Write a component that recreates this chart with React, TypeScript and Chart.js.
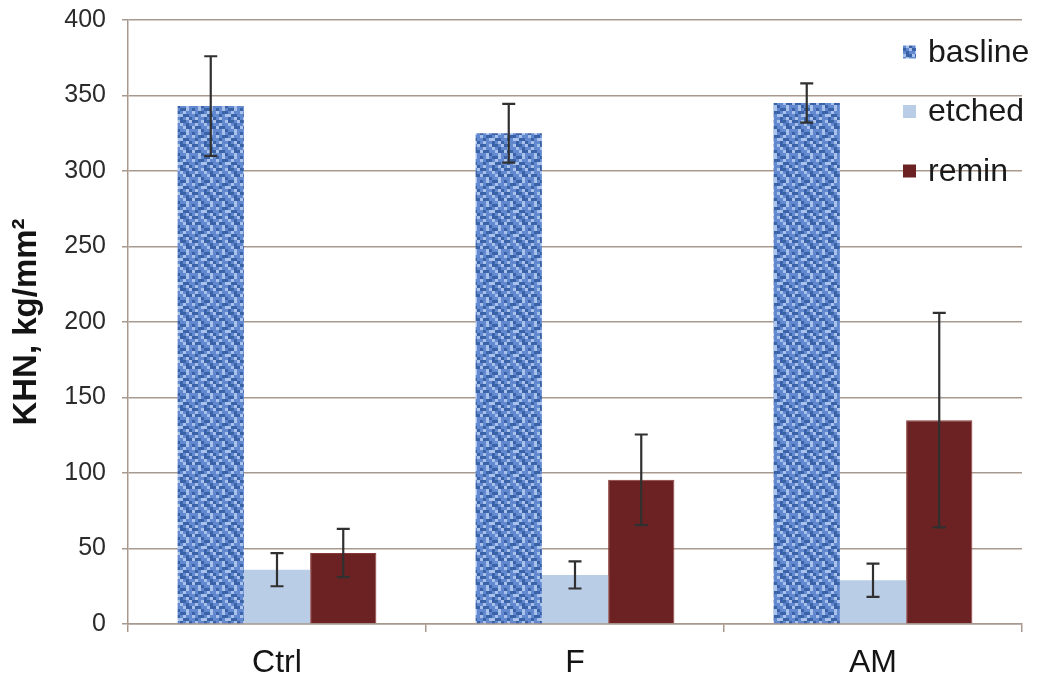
import React, { useEffect, useRef } from "react";
import { Chart, registerables } from "chart.js";

Chart.register(...registerables);

const categories = ["Ctrl", "F", "AM"];
const seriesNames = ["basline", "etched", "remin"];
const baslineValues = [343, 325, 345];
const baslineErrors = [33, 19.5, 13];
const etchedValues = [36, 32.5, 29];
const etchedErrors = [11, 9, 11];
const reminValues = [47, 95.5, 135];
const reminErrors = [16, 30, 71];
const yTicks = [0, 50, 100, 150, 200, 250, 300, 350, 400];

const errorsBySeries = [baslineErrors, etchedErrors, reminErrors];

function makePattern(): CanvasPattern | string {
  const rows = [
    "DDMLDDML",
    "MLMMLMDM",
    "LDDMMLDD",
    "MMLDMMLM",
    "DMLMDDLM",
    "LMDDMLMM",
    "MDMLLDDM",
    "MLMMDMLD",
  ];
  const colors: Record<string, string> = { D: "#3a62a6", M: "#6289cf", L: "#a9c2ec" };
  const c = document.createElement("canvas");
  const s = 3;
  c.width = 8 * s;
  c.height = 8 * s;
  const g = c.getContext("2d");
  if (!g) return "#5a80c4";
  rows.forEach((r, y) => {
    for (let x = 0; x < r.length; x++) {
      g.fillStyle = colors[r[x]];
      g.fillRect(x * s, y * s, s, s);
    }
  });
  const p = g.createPattern(c, "repeat");
  return p || "#5a80c4";
}

const errorBarPlugin = {
  id: "errorBars",
  afterDatasetsDraw(chart: any) {
    const ctx = chart.ctx;
    const yScale = chart.scales.y;
    ctx.save();
    ctx.strokeStyle = "#303030";
    ctx.lineWidth = 2.2;
    chart.data.datasets.forEach((ds: any, di: number) => {
      const meta = chart.getDatasetMeta(di);
      const errs = errorsBySeries[di];
      meta.data.forEach((bar: any, i: number) => {
        const v = ds.data[i];
        const e = errs[i];
        const x = bar.x;
        const yTop = yScale.getPixelForValue(v + e);
        const yBot = yScale.getPixelForValue(v - e);
        const cap = 6.5;
        ctx.beginPath();
        ctx.moveTo(x, yTop);
        ctx.lineTo(x, yBot);
        ctx.moveTo(x - cap, yTop);
        ctx.lineTo(x + cap, yTop);
        ctx.moveTo(x - cap, yBot);
        ctx.lineTo(x + cap, yBot);
        ctx.stroke();
      });
    });
    ctx.restore();
  },
};

const legendPlugin = {
  id: "customLegend",
  afterDraw(chart: any) {
    const ctx = chart.ctx;
    const area = chart.chartArea;
    ctx.save();
    ctx.font = "32px Arial, 'Liberation Sans', sans-serif";
    ctx.textBaseline = "middle";
    ctx.textAlign = "left";
    chart.data.datasets.forEach((ds: any, i: number) => {
      const cy = area.top + 32 + i * 59.5;
      const bx = area.right - 119;
      ctx.fillStyle = ds.backgroundColor;
      ctx.fillRect(bx, cy - 6.5, 13, 13);
      ctx.fillStyle = "#1a1a1a";
      ctx.fillText(ds.label, bx + 25, cy + 1);
    });
    ctx.restore();
  },
};

export default function App() {
  const ref = useRef<HTMLCanvasElement | null>(null);

  useEffect(() => {
    document.body.style.margin = "0";
    if (!ref.current) return;
    const pattern = makePattern();
    const gridColor = "#a8998f";
    const chart = new Chart(ref.current, {
      type: "bar",
      data: {
        labels: categories,
        datasets: [
          { label: seriesNames[0], data: baslineValues, backgroundColor: pattern as any, borderWidth: 0 },
          { label: seriesNames[1], data: etchedValues, backgroundColor: "#b9cde6", borderWidth: 0 },
          { label: seriesNames[2], data: reminValues, backgroundColor: "#6c2222", borderColor: "#8a3a36", borderWidth: 1 },
        ],
      },
      options: {
        animation: false,
        responsive: false,
        maintainAspectRatio: false,
        layout: { padding: { top: 20, right: 28, left: 0, bottom: 0 } },
        plugins: { legend: { display: false }, tooltip: { enabled: false } },
        datasets: { bar: { categoryPercentage: 0.667, barPercentage: 1 } },
        scales: {
          x: {
            grid: { offset: true, drawOnChartArea: false, drawTicks: true, tickLength: 8, color: gridColor, lineWidth: 1.5 },
            border: { display: true, color: gridColor, width: 1.5 },
            ticks: { color: "#141414", font: { family: "Arial, 'Liberation Sans', sans-serif", size: 32 }, padding: 12 },
            afterFit: (scale: any) => { scale.height = 63; },
          },
          y: {
            min: 0,
            max: 400,
            afterBuildTicks: (scale: any) => { scale.ticks = yTicks.map((v) => ({ value: v })); },
            grid: { color: gridColor, lineWidth: 1.5, tickLength: 6 },
            border: { display: true, color: gridColor, width: 1.5 },
            ticks: { color: "#2b2b2b", font: { family: "Arial, 'Liberation Sans', sans-serif", size: 25 }, padding: 16 },
            title: {
              display: true,
              text: "KHN, kg/mm²",
              color: "#141414",
              font: { family: "Arial, 'Liberation Sans', sans-serif", size: 33, weight: "bold" },
              padding: { top: 7, bottom: 0 },
            },
            afterFit: (scale: any) => {
              scale.width = 128;
              scale.paddingTop = 0;
              scale.paddingBottom = 0;
            },
          },
        },
      },
      plugins: [errorBarPlugin, legendPlugin],
    });
    return () => chart.destroy();
  }, []);

  return (
    <div style={{ width: 1050, height: 687 }}>
      <canvas ref={ref} width={1050} height={687} style={{ display: "block", width: 1050, height: 687 }} />
    </div>
  );
}
